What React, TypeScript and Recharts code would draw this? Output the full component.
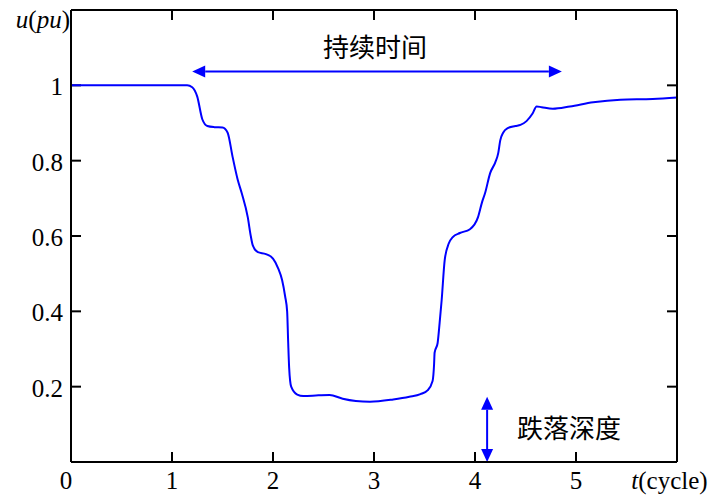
import { LineChart, Line, XAxis, YAxis, ReferenceLine, ReferenceDot } from 'recharts'

// voltage sag waveform
const tValues = [
  0, 1.0, 1.15, 1.2, 1.25, 1.3, 1.35, 1.42, 1.5, 1.55, 1.6, 1.65, 1.69, 1.75, 1.78, 1.8, 1.85, 1.93, 2.0, 2.05,
  2.09, 2.12, 2.14, 2.15, 2.16, 2.18, 2.24, 2.3, 2.45, 2.56, 2.69, 2.82, 2.96, 3.19, 3.35, 3.46, 3.53, 3.58,
  3.595, 3.6, 3.63, 3.65, 3.67, 3.7, 3.74, 3.78, 3.85, 3.95, 4.03, 4.07, 4.1, 4.15, 4.2, 4.23, 4.25, 4.28, 4.32,
  4.4, 4.45, 4.51, 4.57, 4.61, 4.66, 4.77, 4.94, 5.17, 5.44, 5.76, 6.0,
]
const uValues = [
  1.0, 1.0, 1.0, 0.995, 0.97, 0.91, 0.892, 0.889, 0.888, 0.875, 0.81, 0.75, 0.714, 0.65, 0.6, 0.575, 0.557,
  0.552, 0.54, 0.515, 0.483, 0.44, 0.4, 0.32, 0.25, 0.2, 0.179, 0.175, 0.177, 0.178, 0.168, 0.162, 0.16, 0.166,
  0.173, 0.18, 0.19, 0.215, 0.26, 0.29, 0.316, 0.37, 0.43, 0.536, 0.58, 0.597, 0.608, 0.618, 0.65, 0.69, 0.714,
  0.767, 0.795, 0.82, 0.854, 0.875, 0.886, 0.892, 0.895, 0.905, 0.925, 0.944, 0.942, 0.938, 0.944, 0.955, 0.962,
  0.964, 0.968,
]

const xTicks = [0, 1, 2, 3, 4, 5, 6]
const yTicks = [0, 0.2, 0.4, 0.6, 0.8, 1, 1.2]
// inner tick marks (the frame has them on all four sides)
const xMarks = [1, 2, 3, 4, 5]
const yMarks = [0.2, 0.4, 0.6, 0.8, 1]

// annotations
const durationArrow = [{ x: 1.2, y: 1.037 }, { x: 4.86, y: 1.037 }]
const depthArrow = [{ x: 4.12, y: 0.173 }, { x: 4.12, y: 0 }]
const durationLabel = { x: 3.01, y: 1.099, text: '持续时间' }
const depthLabel = { x: 4.93, y: 0.087, text: '跌落深度' }

const data = tValues.map((t, i) => ({ t, u: uValues[i] }))

const serif = '"Liberation Serif", "Times New Roman", serif'
const cjk = '"Noto Sans CJK SC", sans-serif'
const blue = '#0000ff'
const TICK = 10
const labelStyle = { fontFamily: serif, fontSize: 25 }

function XTick(props: any) {
  const { x, y, payload } = props
  const v = payload.value
  if (v === 6) {
    return (
      <text x={x - 7.5} y={y} dy="0.71em" textAnchor="middle" style={labelStyle} fill="#000">
        <tspan fontStyle="italic">t</tspan>(cycle)
      </text>
    )
  }
  return (
    <text x={v === 0 ? x - 5 : x} y={y} dy="0.71em" textAnchor="middle" style={labelStyle} fill="#000">
      {v}
    </text>
  )
}

function YTick(props: any) {
  const { x, y, payload } = props
  const v = payload.value
  if (v === 0) return null
  if (v === 1.2) {
    return (
      <text x={x + 7} y={y + 8} dy="0.4em" textAnchor="end" style={labelStyle} fill="#000">
        <tspan fontStyle="italic">u</tspan>(<tspan fontStyle="italic">pu</tspan>)
      </text>
    )
  }
  return (
    <text x={x} y={y} dy="0.4em" textAnchor="end" style={labelStyle} fill="#000">
      {v}
    </text>
  )
}

// short marks at both ends of a reference line, pointing into the plot
function VMark(props: any) {
  const { x1, y1, y2 } = props
  const top = Math.min(y1, y2)
  const bottom = Math.max(y1, y2)
  return (
    <g>
      <line x1={x1} y1={top} x2={x1} y2={top + TICK} stroke="#000" strokeWidth={2} />
      <line x1={x1} y1={bottom} x2={x1} y2={bottom - TICK} stroke="#000" strokeWidth={2} />
    </g>
  )
}

function HMark(props: any) {
  const { x1, x2, y1 } = props
  const left = Math.min(x1, x2)
  const right = Math.max(x1, x2)
  return (
    <g>
      <line x1={left} y1={y1} x2={left + TICK} y2={y1} stroke="#000" strokeWidth={2} />
      <line x1={right} y1={y1} x2={right - TICK} y2={y1} stroke="#000" strokeWidth={2} />
    </g>
  )
}

function Arrow(props: any) {
  const { x1, y1, x2, y2 } = props
  const len = Math.hypot(x2 - x1, y2 - y1)
  if (!len) return null
  const ux = (x2 - x1) / len
  const uy = (y2 - y1) / len
  const hl = 13
  const hw = 6
  const head = (tx: number, ty: number, dx: number, dy: number) => {
    const bx = tx - dx * hl
    const by = ty - dy * hl
    return `${tx},${ty} ${bx - dy * hw},${by + dx * hw} ${bx + dy * hw},${by - dx * hw}`
  }
  return (
    <g>
      <line x1={x1 + ux * hl} y1={y1 + uy * hl} x2={x2 - ux * hl} y2={y2 - uy * hl} stroke={blue} strokeWidth={2} />
      <polygon points={head(x1, y1, -ux, -uy)} fill={blue} />
      <polygon points={head(x2, y2, ux, uy)} fill={blue} />
    </g>
  )
}

function cjkLabel(text: string) {
  return (props: any) => (
    <text x={props.cx} y={props.cy} dy="0.35em" textAnchor="middle" style={{ fontFamily: cjk, fontSize: 26 }} fill="#000">
      {text}
    </text>
  )
}

export default function App() {
  const axisLine = { stroke: '#000', strokeWidth: 2 }
  return (
    <div style={{ position: 'absolute', left: 0, top: 0, background: '#fff' }}>
      <LineChart width={712} height={495} data={data} margin={{ top: 0, right: 0, bottom: 0, left: 0 }}>
        <XAxis
          dataKey="t"
          type="number"
          domain={[0, 6]}
          ticks={xTicks}
          height={33}
          axisLine={axisLine}
          tickLine={false}
          tickSize={0}
          tickMargin={9}
          tick={<XTick />}
          interval={0}
        />
        <XAxis
          xAxisId="top"
          orientation="top"
          dataKey="t"
          type="number"
          domain={[0, 6]}
          height={10}
          axisLine={axisLine}
          tickLine={false}
          tick={false}
        />
        <YAxis
          type="number"
          domain={[0, 1.2]}
          ticks={yTicks}
          width={71}
          axisLine={axisLine}
          tickLine={false}
          tickSize={0}
          tickMargin={8}
          tick={<YTick />}
          interval={0}
        />
        <YAxis
          yAxisId="right"
          orientation="right"
          type="number"
          domain={[0, 1.2]}
          width={35}
          axisLine={axisLine}
          tickLine={false}
          tick={false}
        />
        {xMarks.map(t => (
          <ReferenceLine key={'x' + t} x={t} shape={VMark} />
        ))}
        {yMarks.map(u => (
          <ReferenceLine key={'y' + u} y={u} shape={HMark} />
        ))}
        <Line
          type="monotone"
          dataKey="u"
          stroke={blue}
          strokeWidth={2}
          dot={false}
          activeDot={false}
          isAnimationActive={false}
        />
        <ReferenceLine segment={durationArrow} shape={Arrow} />
        <ReferenceLine segment={depthArrow} shape={Arrow} />
        <ReferenceDot x={durationLabel.x} y={durationLabel.y} r={0} shape={cjkLabel(durationLabel.text)} />
        <ReferenceDot x={depthLabel.x} y={depthLabel.y} r={0} shape={cjkLabel(depthLabel.text)} />
      </LineChart>
    </div>
  )
}
